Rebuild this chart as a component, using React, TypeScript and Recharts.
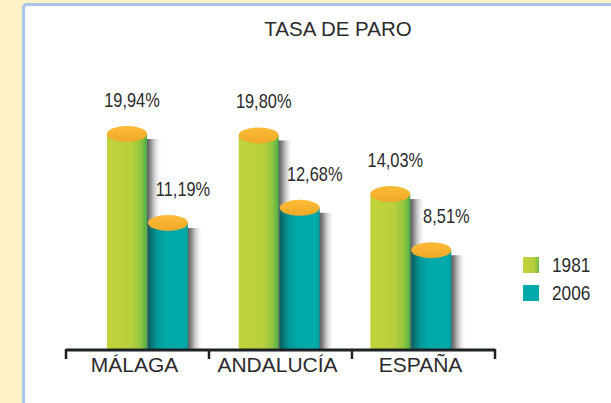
import { BarChart, Bar, XAxis, YAxis, LabelList } from "recharts";

const REGIONS = ["MÁLAGA", "ANDALUCÍA", "ESPAÑA"];
const RATE_1981 = [19.94, 19.8, 14.03];
const RATE_2006 = [11.19, 12.68, 8.51];
const YEARS = ["1981", "2006"];

const DATA = REGIONS.map((region, i) => ({
  region,
  y1981: RATE_1981[i],
  y2006: RATE_2006[i],
}));

const W = 611;
const H = 403;
const MARGIN = { top: 113, right: 116, bottom: 0, left: 66 };
const PLOT_W = W - MARGIN.left - MARGIN.right;
// bracket segments span the whole axis, the cylinders sit a bit tighter together
const SEGMENT = PLOT_W / REGIONS.length;
const BAR_PADDING = { left: 16, right: 18 };

const TEXT = "#2b2b2b";
const SANS = "'Liberation Sans', Arial, sans-serif";
// the numbers in the reference use a condensed face; no narrow font here, so squeeze
const SQUEEZE = 0.82;

const fmt = (v: number) => v.toFixed(2).replace(".", ",") + "%";

function Cylinder(props: any) {
  const { x, y, width, height, background, grad } = props;
  const bottom = background ? background.y + background.height : y + height;
  const rx = width / 2;
  return (
    <g>
      <rect x={x + width - 3} y={y + 5} width={18} height={bottom - y - 5} fill="url(#shadowGrad)" />
      <rect x={x} y={y} width={width} height={bottom - y} fill={`url(#${grad})`} />
      <ellipse cx={x + rx} cy={y} rx={rx} ry={8} fill="url(#capGrad)" />
    </g>
  );
}

function ValueLabel(props: any) {
  const { x, y, width, value, dx } = props;
  return (
    <text
      transform={`translate(${x + width / 2 + dx},${y - 27}) scale(${SQUEEZE},1)`}
      textAnchor="middle"
      fontFamily={SANS}
      fontSize={20}
      fill={TEXT}
    >
      {fmt(value)}
    </text>
  );
}

function RegionTick(props: any) {
  const { y, payload, index } = props;
  const left = MARGIN.left + index * SEGMENT;
  const right = left + SEGMENT;
  return (
    <g>
      <line x1={left} x2={left} y1={y - 1} y2={y + 9} stroke="#1c2226" strokeWidth={2.5} />
      {index === REGIONS.length - 1 && (
        <line x1={right} x2={right} y1={y - 1} y2={y + 9} stroke="#1c2226" strokeWidth={2.5} />
      )}
      <text x={left + SEGMENT / 2 - 3} y={y + 22} textAnchor="middle" fontFamily={SANS} fontSize={21} fill={TEXT}>
        {payload.value}
      </text>
    </g>
  );
}

function YearLegend() {
  const swatch = ["url(#legendGreen)", "#00a9a9"];
  return (
    <div style={{ position: "absolute", left: 523, top: 257, display: "flex", flexDirection: "column", gap: 12 }}>
      {YEARS.map((year, i) => (
        <div key={year} style={{ display: "flex", alignItems: "center", height: 16 }}>
          <svg width={16} height={16} style={{ marginRight: 13, display: "block" }}>
            <rect width={16} height={16} fill={swatch[i]} />
          </svg>
          <span
            style={{
              fontFamily: SANS,
              fontSize: 21,
              color: TEXT,
              lineHeight: "16px",
              display: "inline-block",
              transform: `scaleX(${SQUEEZE})`,
              transformOrigin: "left center",
            }}
          >
            {year}
          </span>
        </div>
      ))}
    </div>
  );
}

export default function App() {
  return (
    <div style={{ position: "fixed", left: 0, top: 0, width: W, height: H, background: "#fff2c8" }}>
      <svg width={W} height={H} style={{ position: "absolute", left: 0, top: 0 }}>
        <defs>
          <linearGradient id="greenGrad" x1="0" y1="0" x2="1" y2="0">
            <stop offset="0" stopColor="#c2d33c" />
            <stop offset="0.6" stopColor="#b9cf3b" />
            <stop offset="0.85" stopColor="#8fc540" />
            <stop offset="1" stopColor="#4aad4a" />
          </linearGradient>
          <linearGradient id="tealGrad" x1="0" y1="0" x2="1" y2="0">
            <stop offset="0" stopColor="#0b5f5e" />
            <stop offset="0.22" stopColor="#049797" />
            <stop offset="0.45" stopColor="#00a9a9" />
            <stop offset="0.9" stopColor="#00abab" />
            <stop offset="1" stopColor="#07999b" />
          </linearGradient>
          <linearGradient id="legendGreen" x1="0" y1="0" x2="1" y2="0">
            <stop offset="0" stopColor="#c2d33c" />
            <stop offset="0.7" stopColor="#b8cf3b" />
            <stop offset="1" stopColor="#6ab846" />
          </linearGradient>
          <linearGradient id="shadowGrad" x1="0" y1="0" x2="1" y2="0">
            <stop offset="0" stopColor="#2a2a2a" stopOpacity={0.95} />
            <stop offset="0.35" stopColor="#555" stopOpacity={0.7} />
            <stop offset="1" stopColor="#fff" stopOpacity={0} />
          </linearGradient>
          <linearGradient id="capGrad" x1="0" y1="0" x2="0" y2="1">
            <stop offset="0" stopColor="#fdbc37" />
            <stop offset="1" stopColor="#f0a828" />
          </linearGradient>
        </defs>
        <rect x={23.5} y={4.5} width={W} height={H} rx={3} fill="#fff" stroke="#a9c5ea" strokeWidth={3} />
        <text x={338} y={36} textAnchor="middle" fontFamily={SANS} fontSize={20.5} fill={TEXT}>
          TASA DE PARO
        </text>
      </svg>
      <div style={{ position: "absolute", left: 0, top: 0 }}>
        <BarChart width={W} height={H} data={DATA} margin={MARGIN} barSize={40} barGap={1}>
          <XAxis
            dataKey="region"
            height={53}
            interval={0}
            padding={BAR_PADDING}
            tickSize={0}
            tickMargin={0}
            axisLine={{ stroke: "#1c2226", strokeWidth: 3 }}
            tickLine={false}
            tick={<RegionTick />}
          />
          <YAxis hide domain={[-1.3, 22]} />
          <Bar
            dataKey="y1981"
            name="1981"
            isAnimationActive={false}
            shape={(p: any) => <Cylinder {...p} grad="greenGrad" />}
          >
            <LabelList dataKey="y1981" content={(p: any) => <ValueLabel {...p} dx={5} />} />
          </Bar>
          <Bar
            dataKey="y2006"
            name="2006"
            isAnimationActive={false}
            shape={(p: any) => <Cylinder {...p} grad="tealGrad" />}
          >
            <LabelList dataKey="y2006" content={(p: any) => <ValueLabel {...p} dx={15} />} />
          </Bar>
        </BarChart>
      </div>
      <YearLegend />
    </div>
  );
}
